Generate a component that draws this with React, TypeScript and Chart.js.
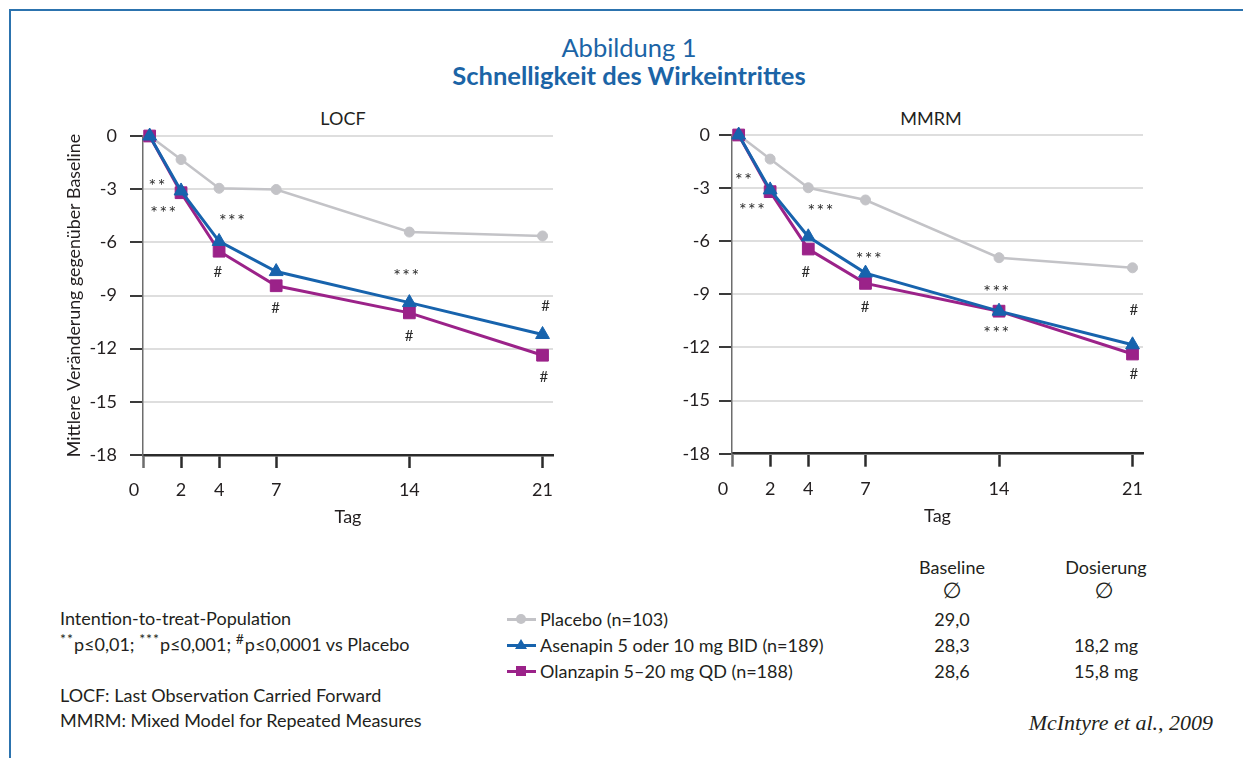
import React, { useEffect, useRef } from 'react';
import { Chart, registerables } from 'chart.js';

Chart.register(...registerables);

const FONT = "Lato, 'Noto Sans', sans-serif";
const BLUE = '#1763ad';
const MAGENTA = '#9b2289';
const GRAY = '#c3c3c7';
const TEXT = '#231f20';
const TITLE_BLUE = '#1b64a6';
const FS = 18;

// Tag (day) of each measurement; the baseline point sits just right of the axis
const tagValues = [0.35, 2, 4, 7, 14, 21];
const xTickValues = [0, 2, 4, 7, 14, 21];
const xTickLabels = ['0', '2', '4', '7', '14', '21'];
const yTickValues = [0, -3, -6, -9, -12, -15, -18];

// LOCF
const placeboLOCF = [0, -1.33, -2.95, -3.02, -5.42, -5.64];
const asenapinLOCF = [0, -3.1, -5.95, -7.65, -9.4, -11.2];
const olanzapinLOCF = [0, -3.2, -6.5, -8.45, -9.98, -12.37];

// MMRM
const placeboMMRM = [0, -1.36, -2.98, -3.67, -6.93, -7.5];
const asenapinMMRM = [0, -3.1, -5.75, -7.8, -9.95, -11.85];
const olanzapinMMRM = [0, -3.2, -6.44, -8.38, -9.95, -12.37];

// significance markers (day, value)
const sigLOCFText = ['**', '***', '***', '#', '#', '***', '#', '#', '#'];
const sigLOCFDay = [0.72, 1.05, 4.66, 3.94, 6.97, 13.82, 13.98, 21.16, 21.07];
const sigLOCFValue = [-2.58, -4.12, -4.58, -7.67, -9.7, -7.68, -11.28, -9.6, -13.6];

const sigMMRMText = ['**', '***', '***', '#', '***', '#', '***', '***', '#', '#'];
const sigMMRMDay = [0.59, 1.03, 4.62, 3.87, 7.15, 6.98, 13.84, 13.84, 21.07, 21.07];
const sigMMRMValue = [-2.32, -4.01, -4.08, -7.72, -6.78, -9.73, -8.66, -10.98, -9.89, -13.5];

const seriesNames = ['Placebo (n=103)', 'Asenapin 5 oder 10 mg BID (n=189)', 'Olanzapin 5–20 mg QD (n=188)'];
const baselineValues = ['29,0', '28,3', '28,6'];
const dosageValues = ['', '18,2 mg', '15,8 mg'];

const overlayPlugin = {
  id: 'overlay',
  afterDatasetsDraw(chart: any, _args: any, opts: any) {
    const { ctx, chartArea } = chart;
    const x = chart.scales.x;
    const y = chart.scales.y;
    ctx.save();
    ctx.textAlign = 'center';
    ctx.textBaseline = 'middle';
    ctx.fillStyle = '#2a2a2a';
    const texts: string[] = opts.sigText;
    for (let i = 0; i < texts.length; i++) {
      const t = texts[i];
      const px = x.getPixelForValue(opts.sigDay[i]);
      const py = y.getPixelForValue(opts.sigValue[i]);
      if (t === '#') {
        ctx.font = `15px ${FONT}`;
        (ctx as any).letterSpacing = '0px';
        ctx.fillText(t, px, py);
      } else {
        ctx.font = `18px ${FONT}`;
        (ctx as any).letterSpacing = '1.5px';
        ctx.fillText(t, px + 1, py + 4);
      }
    }
    (ctx as any).letterSpacing = '0px';
    ctx.font = `${FS}px ${FONT}`;
    ctx.fillStyle = TEXT;
    const xv: number[] = opts.xValues;
    for (let i = 0; i < xv.length; i++) {
      const px = x.getPixelForValue(xv[i]) + (xv[i] === 0 ? -9 : 0);
      ctx.fillText(opts.xLabels[i], px, chartArea.bottom + 35);
    }
    ctx.restore();
  },
};

type PanelProps = {
  left: number;
  top: number;
  yWidth: number;
  xHeight: number;
  labelPad: number;
  yTitle: string;
  placebo: number[];
  asenapin: number[];
  olanzapin: number[];
  sigText: string[];
  sigDay: number[];
  sigValue: number[];
};

function Panel(p: PanelProps) {
  const ref = useRef<HTMLCanvasElement>(null);
  useEffect(() => {
    const mk = (vals: number[]) => tagValues.map((x, i) => ({ x, y: vals[i] }));
    const chart = new Chart(ref.current as HTMLCanvasElement, {
      type: 'line',
      data: {
        datasets: [
          {
            label: seriesNames[1],
            data: mk(p.asenapin),
            borderColor: BLUE,
            backgroundColor: BLUE,
            pointBorderColor: BLUE,
            borderWidth: 3,
            pointStyle: 'triangle',
            pointRadius: 8,
            pointBorderWidth: 1,
            order: 0,
            clip: false,
          },
          {
            label: seriesNames[2],
            data: mk(p.olanzapin),
            borderColor: MAGENTA,
            backgroundColor: MAGENTA,
            pointBorderColor: MAGENTA,
            borderWidth: 3,
            pointStyle: 'rect',
            pointRadius: 8.3,
            pointBorderWidth: 1,
            order: 1,
            clip: false,
          },
          {
            label: seriesNames[0],
            data: mk(p.placebo),
            borderColor: GRAY,
            backgroundColor: GRAY,
            pointBorderColor: GRAY,
            borderWidth: 2.5,
            pointStyle: 'circle',
            pointRadius: 5,
            pointBorderWidth: 1,
            order: 2,
            clip: false,
          },
        ],
      } as any,
      options: {
        animation: false,
        responsive: false,
        devicePixelRatio: 1,
        events: [],
        layout: { padding: { left: 0, top: 10, right: 17, bottom: 0 }, autoPadding: false },
        plugins: {
          legend: { display: false },
          tooltip: { enabled: false },
          title: { display: false },
          overlay: {
            sigText: p.sigText,
            sigDay: p.sigDay,
            sigValue: p.sigValue,
            xValues: xTickValues,
            xLabels: xTickLabels,
          },
        } as any,
        scales: {
          x: {
            type: 'linear',
            min: 0,
            max: 21.55,
            afterBuildTicks: (s: any) => {
              s.ticks = xTickValues.map((v) => ({ value: v }));
            },
            afterFit: (s: any) => {
              s.height = p.xHeight;
              s.paddingLeft = 0;
              s.paddingRight = 0;
              s.paddingTop = 0;
              s.paddingBottom = 0;
            },
            ticks: { display: false },
            grid: {
              drawOnChartArea: false,
              drawTicks: true,
              tickLength: 13,
              tickWidth: 2.5,
              tickColor: (c: any) => (c.tick && c.tick.value === 0 ? '#6d6d6d' : '#2b2b2b'),
            },
            border: { color: '#2b2b2b', width: 2.5 },
            title: {
              display: true,
              text: 'Tag',
              color: TEXT,
              font: { family: FONT, size: FS },
              padding: { top: 0, bottom: 8 },
            },
          },
          y: {
            type: 'linear',
            min: -18,
            max: 0,
            afterBuildTicks: (s: any) => {
              s.ticks = yTickValues.map((v) => ({ value: v }));
            },
            afterFit: (s: any) => {
              s.width = p.yWidth;
              s.paddingLeft = 0;
              s.paddingRight = 0;
              s.paddingTop = 0;
              s.paddingBottom = 0;
            },
            ticks: {
              color: TEXT,
              font: { family: FONT, size: FS },
              padding: p.labelPad,
              callback: (v: any) => String(v),
            },
            grid: {
              color: '#dedede',
              lineWidth: 2,
              drawTicks: true,
              tickLength: 13,
              tickWidth: 2,
              tickColor: '#3a3a3a',
            },
            border: { color: '#6d6d6d', width: 1.5 },
            title: {
              display: p.yTitle !== '',
              text: p.yTitle,
              color: TEXT,
              font: { family: FONT, size: 17.8 },
              padding: { top: 14, bottom: 0 },
            },
          },
        },
      } as any,
      plugins: [overlayPlugin as any],
    });
    return () => chart.destroy();
  }, []);
  return (
    <canvas
      ref={ref}
      width={520}
      height={410}
      style={{ position: 'absolute', left: p.left, top: p.top, width: 520, height: 410 }}
    />
  );
}

function T(props: {
  x: number;
  y: number;
  children: any;
  align?: 'left' | 'center' | 'right';
  size?: number;
  weight?: number;
  color?: string;
  family?: string;
  italic?: boolean;
}) {
  const size = props.size ?? FS;
  const lh = Math.round(size * 1.2);
  const align = props.align ?? 'left';
  const tx = align === 'center' ? 'translateX(-50%)' : align === 'right' ? 'translateX(-100%)' : 'none';
  return (
    <div
      style={{
        position: 'absolute',
        left: props.x,
        top: props.y - lh / 2,
        lineHeight: `${lh}px`,
        fontSize: size,
        fontWeight: props.weight ?? 400,
        fontStyle: props.italic ? 'italic' : 'normal',
        fontFamily: props.family ?? FONT,
        color: props.color ?? TEXT,
        whiteSpace: 'nowrap',
        transform: tx,
      }}
    >
      {props.children}
    </div>
  );
}

function Swatch(props: { y: number; color: string; shape: 'circle' | 'triangle' | 'square' }) {
  const cx = 521;
  let marker: any = null;
  if (props.shape === 'circle') {
    marker = (
      <div style={{ position: 'absolute', left: cx - 5, top: props.y - 5, width: 10, height: 10, borderRadius: 5, background: props.color }} />
    );
  } else if (props.shape === 'square') {
    marker = <div style={{ position: 'absolute', left: cx - 5, top: props.y - 5, width: 10, height: 10, background: props.color }} />;
  } else {
    marker = (
      <div
        style={{
          position: 'absolute',
          left: cx - 6,
          top: props.y - 6,
          width: 0,
          height: 0,
          borderLeft: '6px solid transparent',
          borderRight: '6px solid transparent',
          borderBottom: `10px solid ${props.color}`,
        }}
      />
    );
  }
  return (
    <>
      <div style={{ position: 'absolute', left: 507, top: props.y - 1.5, width: 29, height: 3, background: props.color }} />
      {marker}
    </>
  );
}

const supStyle = { fontSize: 14, position: 'relative' as const, top: -7, letterSpacing: '1px' };

export default function App() {
  useEffect(() => {
    document.body.style.margin = '0';
  }, []);
  const rows = [619, 645, 671];
  const swatchColors = [GRAY, BLUE, MAGENTA];
  const swatchShapes: ('circle' | 'triangle' | 'square')[] = ['circle', 'triangle', 'square'];
  return (
    <div
      style={{
        position: 'absolute',
        left: 0,
        top: 0,
        width: 1243,
        height: 758,
        background: '#fff',
        overflow: 'hidden',
        fontFamily: FONT,
      }}
    >
      <div style={{ position: 'absolute', left: 9, top: 9, width: 1234, height: 2, background: '#2c73ae' }} />
      <div style={{ position: 'absolute', left: 9, top: 9, width: 2, height: 749, background: '#2c73ae' }} />

      <T x={629} y={47} align="center" size={25.5} color={TITLE_BLUE}>
        Abbildung 1
      </T>
      <T x={629} y={75} align="center" size={25.5} weight={700} color={TITLE_BLUE}>
        Schnelligkeit des Wirkeintrittes
      </T>

      <T x={343} y={118} align="center">
        LOCF
      </T>
      <T x={931} y={118} align="center">
        MMRM
      </T>

      <Panel
        left={50}
        top={126}
        yWidth={93}
        xHeight={81}
        labelPad={13}
        yTitle="Mittlere Veränderung gegenüber Baseline"
        placebo={placeboLOCF}
        asenapin={asenapinLOCF}
        olanzapin={olanzapinLOCF}
        sigText={sigLOCFText}
        sigDay={sigLOCFDay}
        sigValue={sigLOCFValue}
      />
      <Panel
        left={640}
        top={125}
        yWidth={92}
        xHeight={81.3}
        labelPad={9}
        yTitle=""
        placebo={placeboMMRM}
        asenapin={asenapinMMRM}
        olanzapin={olanzapinMMRM}
        sigText={sigMMRMText}
        sigDay={sigMMRMDay}
        sigValue={sigMMRMValue}
      />

      <T x={952} y={567} align="center">
        Baseline
      </T>
      <T x={952} y={591} align="center" family="'DejaVu Sans', sans-serif" size={22}>
        ∅
      </T>
      <T x={1106} y={567} align="center">
        Dosierung
      </T>
      <T x={1104} y={591} align="center" family="'DejaVu Sans', sans-serif" size={22}>
        ∅
      </T>

      {rows.map((ry, i) => (
        <React.Fragment key={i}>
          <Swatch y={ry} color={swatchColors[i]} shape={swatchShapes[i]} />
          <T x={540} y={ry}>
            {seriesNames[i]}
          </T>
          <T x={952} y={ry} align="center">
            {baselineValues[i]}
          </T>
          <T x={1106} y={ry} align="center">
            {dosageValues[i]}
          </T>
        </React.Fragment>
      ))}

      <T x={60} y={618}>
        Intention-to-treat-Population
      </T>
      <T x={60} y={644}>
        <span style={supStyle}>**</span>p≤0,01; <span style={supStyle}>***</span>p≤0,001; <span style={supStyle}>#</span>p≤0,0001 vs Placebo
      </T>
      <T x={60} y={695}>
        LOCF: Last Observation Carried Forward
      </T>
      <T x={60} y={720}>
        MMRM: Mixed Model for Repeated Measures
      </T>
      <T x={1213} y={723} align="right" italic family="'Liberation Serif', serif" size={22}>
        McIntyre et al., 2009
      </T>
    </div>
  );
}
